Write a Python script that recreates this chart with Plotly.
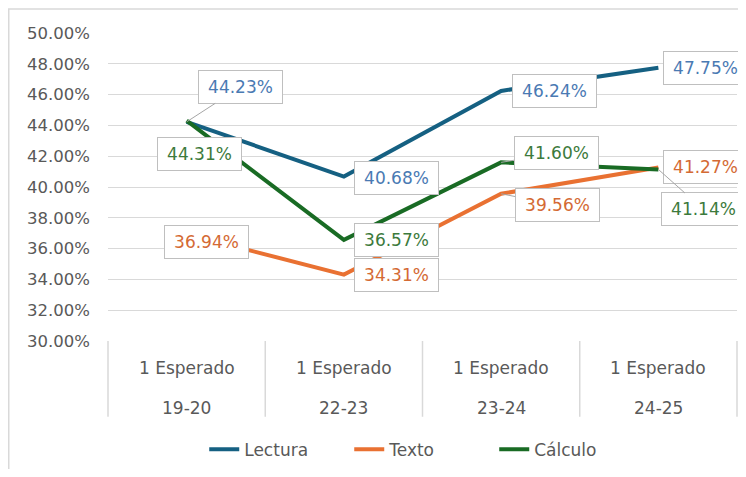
import plotly.graph_objects as go

categories = ["19-20", "22-23", "23-24", "24-25"]
sublabel = ["1 Esperado", "1 Esperado", "1 Esperado", "1 Esperado"]
lectura = [44.23, 40.68, 46.24, 47.75]
texto = [36.94, 34.31, 39.56, 41.27]
calculo = [44.31, 36.57, 41.60, 41.14]
y_ticks = [30, 32, 34, 36, 38, 40, 42, 44, 46, 48, 50]

series = [
    ("Lectura", lectura, "#156082", "#4a7ab3"),
    ("Texto", texto, "#E97132", "#d46a34"),
    ("Cálculo", calculo, "#196B24", "#3c7a3c"),
]

# label offsets in pixels (dx, dy down), and whether a leader line is drawn
label_pos = {
    "Lectura": [(54, -35, True), (53, 1, False), (53, 0, False), (47, 0, False)],
    "Texto": [(20, 8, False), (53, 0, False), (56, 11, True), (47, 0, False)],
    "Cálculo": [(13, 33, False), (53, 0, False), (55, -9, True), (45, 40, True)],
}

FONT = "DejaVu Sans"
GRAY = "#595959"

fig = go.Figure()
for name, vals, col, _ in series:
    fig.add_trace(go.Scatter(
        x=categories, y=vals, name=name, mode="lines",
        line=dict(color=col, width=4), hoverinfo="skip",
    ))

annotations = []
for name, vals, col, tcol in series:
    for i, (c, v) in enumerate(zip(categories, vals)):
        dx, dy, leader = label_pos[name][i]
        common = dict(
            x=c, y=v, xref="x", yref="y", text=f"{v:.2f}%",
            font=dict(family=FONT, size=17, color=tcol),
            bgcolor="white", bordercolor="#bfbfbf", borderwidth=1,
            borderpad=4, width=75, height=24, align="center",
        )
        if leader:
            annotations.append(dict(
                **common, showarrow=True, ax=dx, ay=dy, axref="pixel", ayref="pixel",
                arrowhead=0, arrowwidth=1, arrowcolor="#a6a6a6", standoff=0,
            ))
        else:
            annotations.append(dict(
                **common, showarrow=False, xshift=dx, yshift=-dy,
                xanchor="center", yanchor="middle",
            ))

for c, s in zip(categories, sublabel):
    annotations.append(dict(x=c, y=-0.087, xref="x", yref="paper", text=s, showarrow=False,
                            font=dict(family=FONT, size=17, color=GRAY), yanchor="middle"))
    annotations.append(dict(x=c, y=-0.217, xref="x", yref="paper", text=c, showarrow=False,
                            font=dict(family=FONT, size=17, color=GRAY), yanchor="middle"))

shapes = []
for k in range(len(categories) + 1):
    xp = k / len(categories)
    shapes.append(dict(type="line", xref="paper", yref="paper", x0=xp, x1=xp, y0=0, y1=-0.246,
                       line=dict(color="#d9d9d9", width=1.5)))
# chart-area border (left and top edges visible)
shapes.append(dict(type="rect", xref="paper", yref="paper", x0=-0.1578, x1=1.2, y0=-0.6, y1=1.0777,
                   line=dict(color="#d9d9d9", width=1.5), layer="below"))

fig.update_layout(
    width=730, height=461,
    margin=dict(l=100, r=1, t=25, b=124),
    paper_bgcolor="white", plot_bgcolor="white",
    showlegend=True,
    legend=dict(orientation="h", x=0.153, xanchor="left", y=-0.353, yanchor="middle",
                font=dict(family=FONT, size=17, color=GRAY),
                entrywidth=100, entrywidthmode="pixels", tracegroupgap=0),
    xaxis=dict(type="category", range=[-0.5, 3.5], showticklabels=False, showgrid=False,
               zeroline=False, showline=False, fixedrange=True),
    yaxis=dict(range=[30, 50], tickvals=y_ticks, ticktext=[f"{t:.2f}%" for t in y_ticks],
               showgrid=True, gridcolor="#d9d9d9", gridwidth=1, zeroline=False,
               showline=False, ticks="", ticklabelstandoff=17,
               tickfont=dict(family=FONT, size=16.5, color=GRAY)),
    annotations=annotations,
    shapes=shapes,
    hovermode=False,
)

fig.write_html("out.html")
